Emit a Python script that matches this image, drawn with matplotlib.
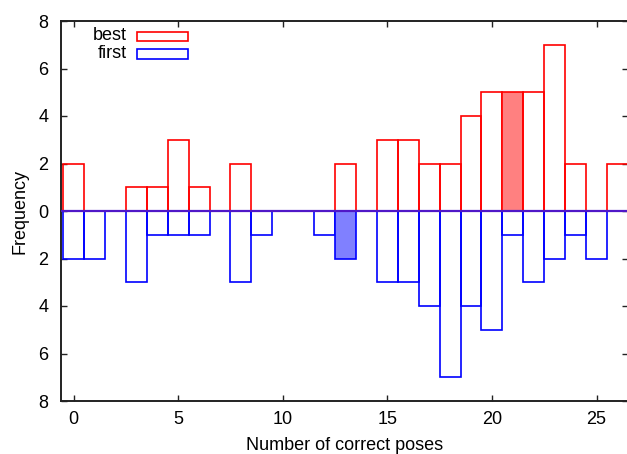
import matplotlib
matplotlib.use("Agg")
import matplotlib.pyplot as plt
from matplotlib.patches import Rectangle
from matplotlib.ticker import FuncFormatter
import numpy as np

plt.rcParams['font.family'] = ['Liberation Sans', 'DejaVu Sans']

poses = list(range(0, 27))
best = [2, 0, 0, 1, 1, 3, 1, 0, 2, 0, 0, 0, 0, 2, 0, 3, 3, 2, 2, 4, 5, 5, 5, 7, 2, 0, 2]
first = [2, 2, 0, 3, 1, 1, 1, 0, 3, 1, 0, 0, 1, 2, 0, 3, 3, 4, 7, 4, 5, 1, 3, 2, 1, 2, 0]
best_highlight = 21
first_highlight = 13
series_labels = ["best", "first"]
xticks = [0, 5, 10, 15, 20, 25]
yticks = [-8, -6, -4, -2, 0, 2, 4, 6, 8]

W, H = 627, 454
fig = plt.figure(figsize=(W / 100, H / 100), dpi=100)
L, R, T, B = 61, 627.5, 21, 401
ax = fig.add_axes([L / W, 1 - B / H, (R - L) / W, (B - T) / H])

red = '#ff0000'
blue = '#0000ff'
lw = 1.2
fs = 13

for x, v in zip(poses, best):
    if v > 0:
        fc = '#ff8080' if x == best_highlight else 'none'
        ax.bar(x, v, width=1.0, facecolor=fc, edgecolor=red, linewidth=lw, zorder=2)
for x, v in zip(poses, first):
    if v > 0:
        fc = '#8080ff' if x == first_highlight else 'none'
        ax.bar(x, -v, width=1.0, facecolor=fc, edgecolor=blue, linewidth=lw, zorder=2)

ax.axhline(0, color='#5018c8', linewidth=1.6, zorder=3)

ax.set_xlim(-0.6, 26.48)
ax.set_ylim(-8, 8)
ax.set_xticks(xticks)
ax.set_yticks(yticks)
ax.yaxis.set_major_formatter(FuncFormatter(lambda v, p: f"{abs(int(round(v)))}"))
ax.tick_params(direction='in', length=4, width=1, top=True, right=True,
               labelsize=fs, colors='#222222', labelcolor='black')
ax.tick_params(axis='x', pad=7)
ax.tick_params(axis='y', pad=9)
for s in ax.spines.values():
    s.set_linewidth(1.4)
    s.set_color('#222222')

ax.set_xlabel("Number of correct poses", fontsize=fs, labelpad=7)
ax.set_ylabel("Frequency", fontsize=fs, labelpad=7)

# legend (gnuplot style: label then sample box)
def px_to_axes(px, py):
    return ((px - L) / (R - L), (B - py) / (B - T))

for i, (lab, col) in enumerate(zip(series_labels, [red, blue])):
    cy = 36 + 18 * i
    x0, y0 = px_to_axes(137, cy + 4.5)
    x1, y1 = px_to_axes(188, cy - 4.5)
    ax.add_patch(Rectangle((x0, y0), x1 - x0, y1 - y0, transform=ax.transAxes,
                           facecolor='none', edgecolor=col, linewidth=lw, clip_on=False))
    tx, ty = px_to_axes(127, cy)
    ax.text(tx, ty, lab, transform=ax.transAxes, ha='right', va='center', fontsize=fs)

fig.savefig("out.png", dpi=100)
